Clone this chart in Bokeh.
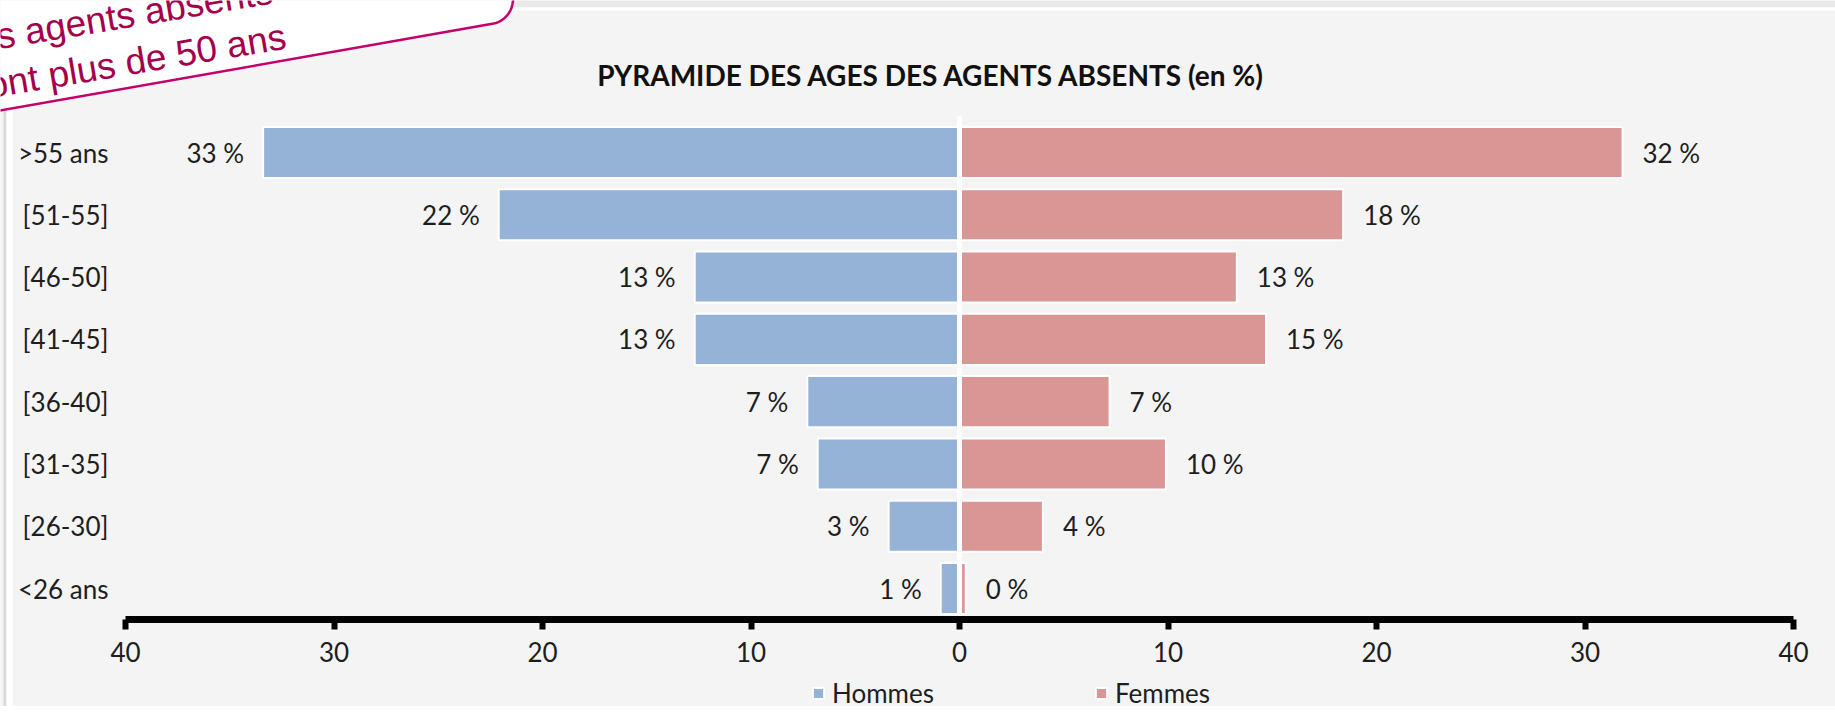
import numpy as np
from bokeh.plotting import figure
from bokeh.models import (ColumnDataSource, Range1d, FixedTicker, Label, PolyAnnotation,
                          BoxAnnotation, Legend, LegendItem)
from bokeh.core.properties import value
from bokeh.embed import file_html
from bokeh.resources import INLINE

# ---------------- data ----------------
categories = [">55 ans", "[51-55]", "[46-50]", "[41-45]", "[36-40]", "[31-35]", "[26-30]", "<26 ans"]
hommes = [33.4, 22.1, 12.7, 12.7, 7.3, 6.8, 3.4, 0.9]
femmes = [31.8, 18.4, 13.3, 14.7, 7.2, 9.9, 4.0, 0.3]
x_ticks = [-40, -30, -20, -10, 0, 10, 20, 30, 40]
series_names = ["Hommes", "Femmes"]
title_text = "PYRAMIDE DES AGES DES AGENTS ABSENTS (en %)"
callout_lines = ["des agents absents", "ont plus de 50 ans"]

# ---------------- styles / layout ----------------
BG = "#f4f4f4"
C_H = "#95b3d7"
C_F = "#d99694"
TXT = "#1e1e1e"
MAG_LINE = "#c4006c"
MAG_TXT = "#a5004b"
FONT = "Lato"
FS = "26px"

W, H = 1835, 706
AX_L, AX_R = 125, 1793          # pixel positions of -40 and +40
TOP_C, BOT_C = 152, 588         # pixel centres of first / last category
n = len(categories)
ppu_x = (AX_R - AX_L) / (x_ticks[-1] - x_ticks[0])
ppu_y = (BOT_C - TOP_C) / (n - 1)
y_pos = [n - 1 - i for i in range(n)]

x_range = Range1d(x_ticks[0] - AX_L / ppu_x, x_ticks[-1] + (W - AX_R) / ppu_x)
y_range = Range1d(-(H - BOT_C) / ppu_y, (n - 1) + TOP_C / ppu_y)

src = ColumnDataSource(dict(
    y=y_pos,
    h_left=[-v for v in hommes],
    f_right=femmes,
    h_lab=[f"{round(v)} %" for v in hommes],
    f_lab=[f"{round(v)} %" for v in femmes],
))

p = figure(width=W, height=H, x_range=x_range, y_range=y_range,
           output_backend="svg", toolbar_location=None, tools="",
           min_border=0, min_border_left=0, min_border_right=0,
           min_border_top=0, min_border_bottom=0,
           background_fill_color=BG, border_fill_color=BG, outline_line_color=None)

def sbox(left, right, bottom, top, color):
    return BoxAnnotation(left=left, right=right, bottom=bottom, top=top,
                         left_units="screen", right_units="screen",
                         bottom_units="screen", top_units="screen",
                         fill_color=color, fill_alpha=1, line_color=None)

# thin panel borders (top band + left strip)
p.add_layout(sbox(0, W, H - 7, H, "#e8e8e8"))
p.add_layout(sbox(0, W, H - 10, H - 7, "white"))
p.add_layout(sbox(3, 6, 0, H - 7, "#dadada"))
p.add_layout(sbox(6, 12, 0, H - 10, "white"))

rh = p.hbar(y="y", left="h_left", right=0, height=0.82, source=src,
            fill_color=C_H, line_color="white", line_width=2)
rf = p.hbar(y="y", left=0, right="f_right", height=0.82, source=src,
            fill_color=C_F, line_color="white", line_width=2)

# white vertical zero line
p.segment(x0=0, y0=-0.5, x1=0, y1=(n - 1) + 0.58, line_color="white", line_width=5)

p.text(x="h_left", y="y", text="h_lab", source=src, x_offset=-19,
       text_align="right", text_baseline="middle", text_font=value(FONT),
       text_font_size=FS, text_color=TXT)
p.text(x="f_right", y="y", text="f_lab", source=src, x_offset=20,
       text_align="left", text_baseline="middle", text_font=value(FONT),
       text_font_size=FS, text_color=TXT)

# axes (fixed inside the frame)
p.xgrid.visible = False
p.ygrid.visible = False
xa = p.xaxis[0]
xa.fixed_location = -0.5
xa.bounds = (x_ticks[0], x_ticks[-1])
xa.ticker = FixedTicker(ticks=x_ticks)
xa.major_label_overrides = {t: str(abs(t)) for t in x_ticks}
xa.minor_tick_line_color = None
xa.axis_line_width = 7
xa.axis_line_color = "black"
xa.major_tick_line_width = 6
xa.major_tick_line_color = "black"
xa.major_tick_out = 10
xa.major_tick_in = 0
xa.major_label_standoff = 12
xa.major_label_text_font = FONT
xa.major_label_text_font_size = FS
xa.major_label_text_color = TXT

ya = p.yaxis[0]
ya.fixed_location = x_ticks[0]
ya.ticker = FixedTicker(ticks=y_pos)
ya.major_label_overrides = {yv: c for yv, c in zip(y_pos, categories)}
ya.axis_line_color = None
ya.major_tick_line_color = None
ya.minor_tick_line_color = None
ya.major_tick_out = 0
ya.major_tick_in = 0
ya.major_label_standoff = 17
ya.major_label_text_font = FONT
ya.major_label_text_font_size = FS
ya.major_label_text_color = TXT

# pixel helpers (frame == canvas)
def sx(X):
    return X

def sy(Y):
    return H - Y

# title
p.add_layout(Label(x=sx(931), y=sy(74), x_units="screen", y_units="screen",
                   text=title_text, text_align="center", text_baseline="middle",
                   text_font=FONT, text_font_style="bold", text_font_size="28px",
                   text_color="#111111"))

# callout box (rotated rounded rectangle, cropped by page corner)
theta = np.deg2rad(10.0)
d = np.array([np.cos(theta), -np.sin(theta)])
u = np.array([np.sin(theta), -np.cos(theta)])
C = np.array([509.0, 110.0 - 509.0 * np.tan(theta)])
r = 16.0
O = C - r * d + r * u
alphas = np.linspace(np.pi / 2, 0, 12)
arc = [O + r * (d * np.cos(a) - u * np.sin(a)) for a in alphas]
top_right = C + 60 * u
pts = [np.array([0.0, 110.0]) - 120 * d] + arc + [top_right, np.array([-150.0, top_right[1]])]
p.add_layout(PolyAnnotation(xs=[sx(pt[0]) for pt in pts], ys=[sy(pt[1]) for pt in pts],
                            xs_units="screen", ys_units="screen",
                            fill_color="white", fill_alpha=1.0,
                            line_color=MAG_LINE, line_alpha=1.0, line_width=2.5))
t_angle = np.deg2rad(9.5)
p.add_layout(Label(x=sx(-44.5), y=sy(43.3), x_units="screen", y_units="screen",
                   text=callout_lines[0], angle=t_angle, angle_units="rad",
                   text_align="left", text_baseline="alphabetic",
                   text_font="Liberation Sans", text_font_size="37px", text_color=MAG_TXT))
p.add_layout(Label(x=sx(-13), y=sy(85.5), x_units="screen", y_units="screen",
                   text=callout_lines[1], angle=t_angle, angle_units="rad",
                   text_align="left", text_baseline="alphabetic",
                   text_font="Liberation Sans", text_font_size="37px", text_color=MAG_TXT))

# legend
legend = Legend(items=[LegendItem(label=series_names[0], renderers=[rh]),
                       LegendItem(label=series_names[1], renderers=[rf])],
                orientation="horizontal", location=(sx(811), sy(694) - 15),
                background_fill_alpha=0, border_line_color=None,
                padding=0, margin=0, spacing=160, glyph_width=14, glyph_height=14,
                label_standoff=7, label_text_font=FONT, label_text_font_size=FS,
                label_text_color=TXT)
p.add_layout(legend, "center")

open("out.html", "w").write(file_html(p, INLINE))
